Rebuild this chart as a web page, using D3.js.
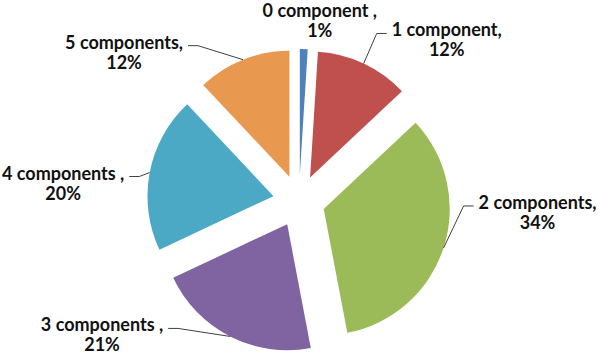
<!DOCTYPE html>
<html>
<head>
<meta charset="utf-8">
<script src="https://cdn.jsdelivr.net/npm/d3@7"></script>
<style>
  html, body { margin: 0; padding: 0; background: #fff; }
  svg { display: block; }
  text { font-family: Lato, "Open Sans", sans-serif; font-weight: 700; fill: #111; }
</style>
</head>
<body>
<svg id="chart" width="600" height="361"></svg>
<script>
// ---- data ----
const categories = ["0 component", "1 component", "2 components", "3 components", "4 components", "5 components"];
const values = [1, 12, 34, 21, 20, 12];
const labelFirstLines = ["0 component ,", "1 component,", "2 components,", "3 components ,", "4 components ,", "5 components,"];
const labelPercents = ["1%", "12%", "34%", "21%", "20%", "12%"];
const colors = ["#4F81BD", "#C0504D", "#9BBB59", "#8064A2", "#4BA9C5", "#E8994F"];

// ---- layout (label offsets from leader anchor on the slice arc; side: 0 none, 1 right, -1 left) ----
const labelOffsets = [[16, -32], [83, -27], [94, -39], [-128, -5], [-87, 7], [-119, -11]];
const labelSides = [0, 1, 1, -1, -1, -1];

const W = 600, H = 361;
const cx = 299, cy = 201, R = 126, explode = 26;
const fontSize = 18, lineGap = 20;

const svg = d3.select("#chart");
const g = svg.append("g").attr("transform", `translate(${cx},${cy})`);

const pie = d3.pie().sort(null).value(d => d).startAngle(0).endAngle(2 * Math.PI);
const arcs = pie(values);
const arc = d3.arc().innerRadius(0).outerRadius(R);

const dir = a => [Math.sin(a), -Math.cos(a)];

const slices = g.selectAll("g.slice").data(arcs).enter().append("g")
  .attr("class", "slice")
  .attr("transform", d => {
    const m = (d.startAngle + d.endAngle) / 2;
    const [ux, uy] = dir(m);
    return `translate(${ux * explode},${uy * explode})`;
  });

slices.append("path")
  .attr("d", arc)
  .attr("fill", (d, i) => colors[i]);

// labels and leader lines
arcs.forEach((d, i) => {
  const m = (d.startAngle + d.endAngle) / 2;
  const [ux, uy] = dir(m);
  const ax = ux * explode + ux * R;
  const ay = uy * explode + uy * R;
  let lx = ax + labelOffsets[i][0];
  const ly = ay + labelOffsets[i][1];

  const t = g.append("text")
    .attr("text-anchor", "middle")
    .attr("font-size", fontSize);
  const first = t.append("tspan").attr("x", lx).attr("y", ly).text(labelFirstLines[i]);
  const second = t.append("tspan").attr("x", lx).attr("y", ly + lineGap).text(labelPercents[i]);

  // keep label inside the canvas
  const w = first.node().getComputedTextLength();
  const maxCx = (W - cx) - 2 - w / 2;
  const minCx = -cx + 2 + w / 2;
  if (lx > maxCx || lx < minCx) {
    lx = Math.max(minCx, Math.min(maxCx, lx));
    first.attr("x", lx);
    second.attr("x", lx);
  }

  const side = labelSides[i];
  if (side !== 0) {
    const edge = side > 0 ? lx - w / 2 - 5 : lx + w / 2 + 5;
    const lineY = ly - 3;
    const elbowX = edge - side * 10;
    g.append("polyline")
      .attr("points", [[ax, ay], [elbowX, lineY], [edge, lineY]].map(p => p.join(",")).join(" "))
      .attr("fill", "none")
      .attr("stroke", "#404040")
      .attr("stroke-width", 1);
  }
});
</script>
</body>
</html>
